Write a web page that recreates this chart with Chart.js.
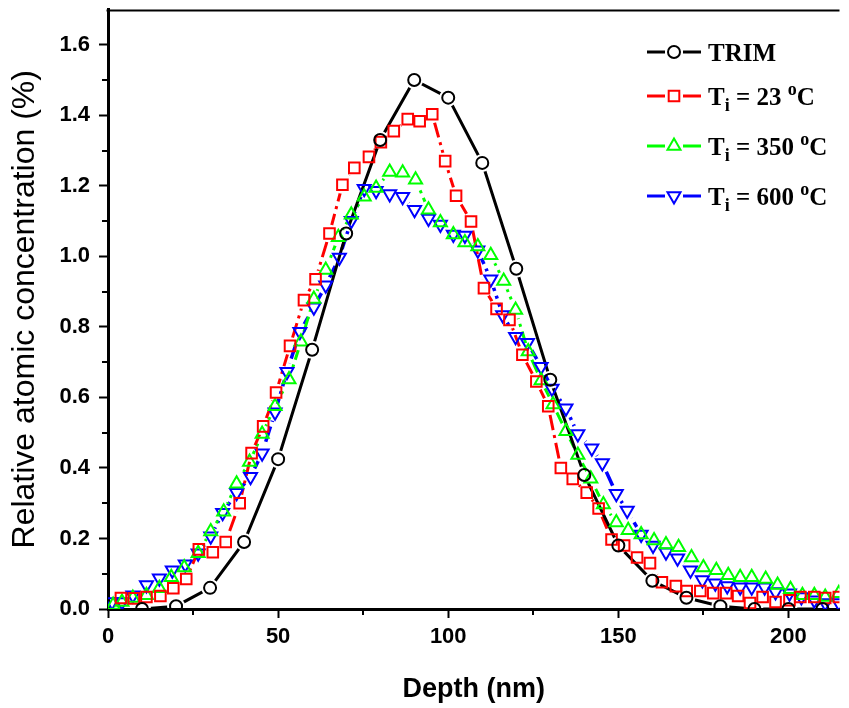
<!DOCTYPE html>
<html>
<head>
<meta charset="utf-8">
<script src="https://cdn.jsdelivr.net/npm/chart.js@4.4.0/dist/chart.umd.min.js"></script>
<style>
  html, body { margin: 0; padding: 0; background: #fff; }
  canvas { display: block; }
</style>
</head>
<body>
<canvas id="chart" width="849" height="708"></canvas>
<script>
// TRIM simulation, 10 nm steps
const trimDepth = [10, 20, 30, 40, 50, 60, 70, 80, 90, 100, 110, 120, 130, 140, 150, 160, 170, 180, 190, 200, 210];
const trimConc = [0.0, 0.008, 0.06, 0.19, 0.425, 0.735, 1.065, 1.33, 1.50, 1.45, 1.265, 0.965, 0.65, 0.38, 0.18, 0.08, 0.032, 0.008, 0.0, 0.0, 0.0];

// implanted at 23 C
const rtDepth = [3.8, 7.6, 11.3, 15.4, 19.2, 23.0, 26.7, 30.8, 34.6, 38.7, 42.2, 45.6, 49.4, 53.5, 57.6, 61.0, 65.1, 68.9, 72.4, 76.7,
  80.2, 84.0, 88.1, 91.6, 95.3, 99.1, 102.3, 106.7, 110.5, 114.2, 118.0, 121.8, 125.9, 129.4, 133.1, 136.6, 140.7, 144.2, 148.0, 151.7,
  155.5, 159.3, 162.8, 166.9, 170.1, 174.1, 177.9, 181.7, 185.2, 188.7, 192.4, 196.2, 200.3, 203.5, 207.6, 210.8, 214.8];
const rtConc = [0.031, 0.03, 0.034, 0.037, 0.059, 0.085, 0.169, 0.161, 0.19, 0.30, 0.442, 0.518, 0.614, 0.746, 0.876, 0.935, 1.065, 1.203, 1.251, 1.282,
  1.324, 1.355, 1.389, 1.383, 1.403, 1.270, 1.172, 1.099, 0.910, 0.851, 0.820, 0.721, 0.645, 0.575, 0.40, 0.369, 0.330, 0.285, 0.197, 0.180,
  0.146, 0.130, 0.076, 0.065, 0.051, 0.051, 0.045, 0.045, 0.037, 0.017, 0.034, 0.020, 0.025, 0.034, 0.034, 0.031, 0.034];

// implanted at 350 C
const t350Depth = [1.5, 4.1, 7.3, 11.3, 15.1, 18.6, 22.4, 26.5, 30.2, 34.0, 37.8, 41.6, 45.3, 49.1, 53.2, 56.7, 60.5, 64.0, 67.7, 71.5,
  75.3, 78.8, 82.8, 86.6, 90.4, 94.2, 97.7, 101.5, 104.9, 108.7, 112.5, 116.3, 119.8, 123.5, 127.3, 130.8, 134.6, 138.1, 141.9, 145.6,
  149.4, 152.9, 156.7, 160.5, 164.0, 167.7, 171.5, 175.0, 178.8, 182.3, 185.8, 189.2, 193.3, 196.8, 200.6, 204.1, 207.6, 210.8, 214.8];
const t350Conc = [0.011, 0.020, 0.031, 0.039, 0.059, 0.090, 0.118, 0.158, 0.220, 0.276, 0.355, 0.417, 0.496, 0.575, 0.651, 0.758, 0.879, 0.961, 1.054, 1.118,
  1.169, 1.194, 1.239, 1.237, 1.217, 1.132, 1.096, 1.062, 1.039, 1.028, 1.003, 0.930, 0.848, 0.730, 0.648, 0.580, 0.504, 0.437, 0.369, 0.296,
  0.245, 0.223, 0.211, 0.194, 0.183, 0.175, 0.146, 0.118, 0.110, 0.096, 0.090, 0.090, 0.085, 0.068, 0.056, 0.039, 0.039, 0.034, 0.045];

// implanted at 600 C
const t600Depth = [1.2, 4.1, 7.3, 11.3, 15.1, 18.9, 22.7, 26.5, 30.2, 33.7, 37.8, 41.9, 45.3, 49.1, 52.6, 56.4, 60.5, 64.0, 68.0, 71.5,
  75.3, 78.8, 82.8, 86.6, 90.1, 94.2, 97.7, 101.5, 104.9, 108.7, 112.5, 116.0, 119.8, 123.3, 127.3, 130.5, 134.6, 138.1, 142.2, 145.3,
  149.4, 152.6, 156.7, 160.2, 164.0, 167.4, 171.2, 174.7, 178.5, 182.0, 185.8, 189.2, 193.0, 196.2, 200.3, 203.8, 207.6, 210.8, 214.8];
const t600Conc = [0.020, 0.020, 0.039, 0.068, 0.087, 0.110, 0.127, 0.158, 0.206, 0.273, 0.330, 0.375, 0.442, 0.558, 0.673, 0.786, 0.856, 0.918, 0.997, 1.101,
  1.192, 1.186, 1.177, 1.169, 1.132, 1.107, 1.090, 1.062, 1.059, 1.017, 0.935, 0.834, 0.772, 0.755, 0.687, 0.625, 0.569, 0.496, 0.456, 0.414,
  0.327, 0.279, 0.211, 0.180, 0.161, 0.144, 0.110, 0.082, 0.073, 0.065, 0.062, 0.062, 0.062, 0.048, 0.045, 0.034, 0.025, 0.017, 0.017];

const legendTemps = [23, 350, 600];
const xMinorTicks = [25, 75, 125, 175];
const yMinorTicks = [0.1, 0.3, 0.5, 0.7, 0.9, 1.1, 1.3, 1.5];

const series = [
  { name: 'TRIM', xs: trimDepth, ys: trimConc, color: '#000000', style: 'circle', radius: 6, rot: 0, dash: [], width: 3 },
  { name: 'T23', xs: rtDepth, ys: rtConc, color: '#ff0000', style: 'rect', radius: 7.5, rot: 0, dash: [16, 5, 3, 5], width: 3 },
  { name: 'T350', xs: t350Depth, ys: t350Conc, color: '#00ff00', style: 'triangle', radius: 7.5, rot: 0, dash: [16, 5, 3, 5], width: 3 },
  { name: 'T600', xs: t600Depth, ys: t600Conc, color: '#0000ff', style: 'triangle', radius: 7.5, rot: 180, dash: [16, 5, 3, 5], width: 3.5 }
];

const toPoints = (xs, ys) => xs.map((x, i) => ({ x, y: ys[i] }));

// markers first (drawn on top), then the connecting lines
const datasets = [];
series.forEach((s, i) => {
  datasets.push({
    label: s.name,
    data: toPoints(s.xs, s.ys),
    showLine: false,
    pointStyle: s.style,
    pointRadius: s.radius,
    pointRotation: s.rot,
    pointBorderWidth: 2,
    pointBorderColor: s.color,
    pointBackgroundColor: 'rgba(0,0,0,0)',
    order: i
  });
});
series.forEach((s, i) => {
  datasets.push({
    label: s.name + ' line',
    data: toPoints(s.xs, s.ys),
    borderColor: s.color,
    borderWidth: s.width,
    borderDash: s.dash,
    pointRadius: 0,
    tension: 0,
    order: 4 + i,
    gapsFrom: i,
    gapRadius: 9
  });
});

// cut the line out around every marker so the symbols stay open
const lineGaps = {
  id: 'lineGaps',
  beforeDatasetDraw(chart, args) {
    const ds = chart.data.datasets[args.index];
    if (ds.gapsFrom === undefined) return;
    const ctx = chart.ctx;
    ctx.save();
    chart.getDatasetMeta(ds.gapsFrom).data.forEach(p => {
      ctx.beginPath();
      ctx.rect(0, 0, chart.width, chart.height);
      ctx.moveTo(p.x + ds.gapRadius, p.y);
      ctx.arc(p.x, p.y, ds.gapRadius, 0, Math.PI * 2);
      ctx.clip('evenodd');
    });
  },
  afterDatasetDraw(chart, args) {
    const ds = chart.data.datasets[args.index];
    if (ds.gapsFrom !== undefined) chart.ctx.restore();
  }
};

// top border and minor ticks
const frame = {
  id: 'frame',
  afterDraw(chart) {
    const { ctx, chartArea: a, scales: { x, y } } = chart;
    ctx.save();
    ctx.strokeStyle = '#000';
    ctx.lineWidth = 2;
    ctx.beginPath();
    ctx.moveTo(a.left - 1.5, a.top + 1);
    ctx.lineTo(a.right, a.top + 1);
    xMinorTicks.forEach(v => {
      const px = Math.round(x.getPixelForValue(v));
      ctx.moveTo(px, a.bottom);
      ctx.lineTo(px, a.bottom + 6);
    });
    yMinorTicks.forEach(v => {
      const py = Math.round(y.getPixelForValue(v));
      ctx.moveTo(a.left, py);
      ctx.lineTo(a.left - 6, py);
    });
    ctx.stroke();
    ctx.restore();
  }
};

// legend with subscript / superscript labels
const legendBox = {
  id: 'legendBox',
  afterDraw(chart) {
    const ctx = chart.ctx;
    const x0 = 647, x1 = 701, tx = 708, rowY = [52, 96, 146, 196];
    const base = 'bold 25px "Liberation Serif", "Times New Roman", serif';
    const small = 'bold 18px "Liberation Serif", "Times New Roman", serif';
    ctx.save();
    series.forEach((s, i) => {
      const y = rowY[i];
      const xm = (x0 + x1) / 2;
      ctx.strokeStyle = s.color;
      ctx.lineWidth = 3;
      ctx.setLineDash([]);
      ctx.beginPath();
      ctx.moveTo(x0, y);
      ctx.lineTo(xm - 9, y);
      ctx.moveTo(xm + 9, y);
      ctx.lineTo(x1, y);
      ctx.stroke();
      ctx.lineWidth = 2;
      ctx.fillStyle = '#fff';
      Chart.helpers.drawPoint(ctx, { pointStyle: s.style, radius: s.radius, rotation: s.rot, borderWidth: 2 }, xm, y);

      ctx.fillStyle = '#000';
      ctx.textBaseline = 'alphabetic';
      const baseY = y + 9;
      let cx = tx;
      const put = (txt, font, dy) => {
        ctx.font = font;
        ctx.fillText(txt, cx, baseY + dy);
        cx += ctx.measureText(txt).width;
      };
      if (i === 0) {
        put('TRIM', base, 0);
      } else {
        put('T', base, 0);
        put('i', small, 6);
        put(' = ' + legendTemps[i - 1] + ' ', base, 0);
        put('o', small, -10);
        put('C', base, 0);
      }
    });
    ctx.restore();
  }
};

new Chart(document.getElementById('chart').getContext('2d'), {
  type: 'line',
  data: { datasets },
  options: {
    responsive: false,
    animation: false,
    layout: { padding: { top: 2, left: 0, right: 0, bottom: 0 } },
    plugins: { legend: { display: false }, tooltip: { enabled: false } },
    scales: {
      x: {
        type: 'linear',
        min: 0,
        max: 215,
        border: { display: true, width: 3, color: '#000' },
        grid: { drawOnChartArea: false, drawTicks: true, tickLength: 9, tickWidth: 2, tickColor: '#000' },
        ticks: {
          stepSize: 50,
          includeBounds: false,
          autoSkip: false,
          maxRotation: 0,
          padding: 6,
          color: '#000',
          font: { family: '"Liberation Sans", Arial, sans-serif', size: 22, weight: 'bold' }
        },
        title: {
          display: true,
          text: 'Depth (nm)',
          color: '#000',
          padding: { top: 0, bottom: 2 },
          font: { family: '"Liberation Sans", Arial, sans-serif', size: 27, weight: 'bold' }
        },
        afterFit(scale) { scale.height = 99; }
      },
      y: {
        min: 0,
        max: 1.7,
        border: { display: true, width: 3, color: '#000' },
        grid: { drawOnChartArea: false, drawTicks: true, tickLength: 9, tickWidth: 2, tickColor: '#000' },
        ticks: {
          stepSize: 0.2,
          includeBounds: false,
          padding: 9,
          color: '#000',
          font: { family: '"Liberation Sans", Arial, sans-serif', size: 22, weight: 'bold' },
          callback: v => v.toFixed(1)
        },
        title: {
          display: true,
          text: 'Relative atomic concentration (%)',
          color: '#000',
          padding: { top: 6, bottom: 0 },
          font: { family: '"Liberation Sans", Arial, sans-serif', size: 32, weight: 'normal' }
        },
        afterFit(scale) {
          scale.width = 108;
          scale.paddingTop = 0;
          scale.paddingBottom = 0;
        }
      }
    }
  },
  plugins: [lineGaps, frame, legendBox]
});
</script>
</body>
</html>
